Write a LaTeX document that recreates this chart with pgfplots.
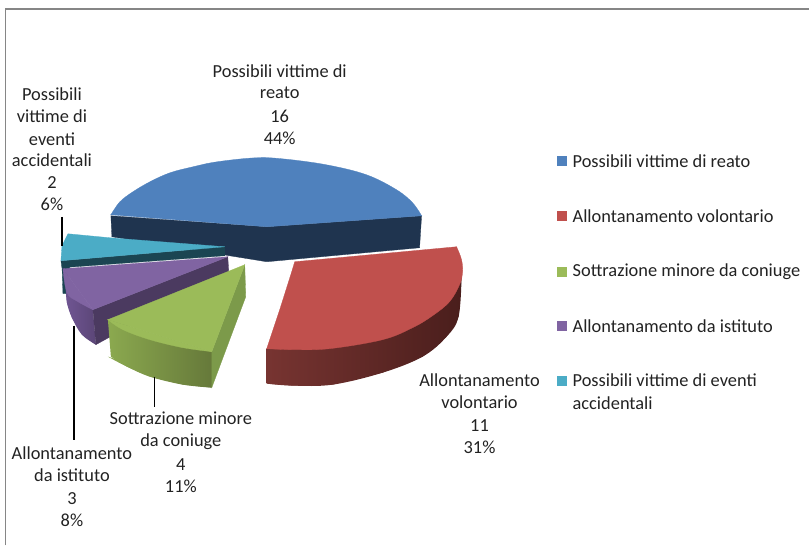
\documentclass[border=0pt]{standalone}
\usepackage{fontspec}
\setmainfont{Carlito}
\usepackage{pgfplots}
\pgfplotsset{compat=1.18}
\definecolor{bluetop}{HTML}{4F81BD}
\definecolor{blueside}{HTML}{1F344F}
\definecolor{redtop}{HTML}{C0504D}
\definecolor{redsideA}{HTML}{773431}
\definecolor{redsideB}{HTML}{4A1E1C}
\definecolor{greentop}{HTML}{9BBB59}
\definecolor{greenside}{HTML}{7C9A4A}
\definecolor{greenA}{HTML}{8BA94F}
\definecolor{greenB}{HTML}{66793A}
\definecolor{purpletop}{HTML}{8064A2}
\definecolor{purpleside}{HTML}{4B3A60}
\definecolor{purpleA}{HTML}{6F5592}
\definecolor{purpleB}{HTML}{5B4677}
\definecolor{tealtop}{HTML}{4BACC6}
\definecolor{tealside}{HTML}{1B4552}
\definecolor{framec}{HTML}{868686}
\definecolor{txt}{HTML}{222222}
\begin{document}
\begin{tikzpicture}[
  lab/.style={font=\fontsize{18.4}{20}\selectfont, text=txt, inner sep=0pt, anchor=center},
  leg/.style={font=\fontsize{18.4}{20}\selectfont, text=txt, inner sep=0pt, anchor=west}]
\begin{axis}[
  scale only axis, width=810pt, height=546pt,
  xmin=0, xmax=810, ymin=0, ymax=546, y dir=reverse,
  axis line style={draw=none}, ticks=none, no markers,
  clip=false]
% frame
\addplot[framec, line width=1.6pt] coordinates {(5.6,546) (5.6,8.8) (810,8.8)};
% blue
\addplot[fill=blueside, draw=blueside, line width=0.3pt] coordinates {(111,216) (267,227) (422,216) (420,248) (267,262) (112,237)} --cycle;
\addplot[fill=bluetop, draw=bluetop, line width=0.3pt, smooth, tension=0.6] coordinates {(111,215) (120,202) (133,192) (150,182) (170,173) (193,167) (217,162) (255,158) (283,159) (327,165) (367,175) (397,190) (413,203) (422,216)} --cycle;
\addplot[fill=bluetop, draw=bluetop, line width=0.3pt] coordinates {(111,215) (200,190) (340,190) (422,216) (267,227)} --cycle;
% teal
\addplot[fill=tealside, draw=tealside, line width=0.3pt] coordinates {(62,265) (63,294) (66,294) (70,265)} --cycle;
\addplot[fill=tealside, draw=tealside, line width=0.3pt] coordinates {(61,261) (225,247) (225,256) (62,268)} --cycle;
\addplot[fill=tealtop, draw=tealtop, line width=0.3pt] coordinates {(68,234) (110,238) (225,247) (61,261) (62,246)} --cycle;
% purple
\addplot[left color=purpleA, right color=purpleB, draw=none, smooth, tension=0.6] coordinates {(66,290) (67,303) (72,318) (82,335) (96,345)} --cycle;
\addplot[left color=purpleA, right color=purpleB, draw=none] coordinates {(66,290) (67,303) (72,318) (82,335) (96,345) (93,310)} --cycle;
\addplot[fill=purpleside, draw=purpleside, line width=0.3pt] coordinates {(93,310) (228,257) (229,272) (96,345)} --cycle;
\addplot[fill=purpletop, draw=purpletop, line width=0.3pt, smooth, tension=0.6] coordinates {(63,269) (67,293) (78,302) (93,310)} --cycle;
\addplot[fill=purpletop, draw=purpletop, line width=0.3pt] coordinates {(63,269) (228,257) (93,310)} --cycle;
% green
\addplot[left color=greenA, right color=greenB, draw=none] coordinates {(108,320) (111,357) (127,367) (150,377) (183,385) (212,388) (212,352)} --cycle;
\addplot[left color=greenA, right color=greenB, draw=none, smooth, tension=0.6] coordinates {(108,357) (127,367) (150,377) (183,385) (212,388)} --cycle;
\addplot[fill=greenside, draw=greenside, line width=0.3pt] coordinates {(245,265) (246,297) (212,388) (212,352)} --cycle;
\addplot[fill=greentop, draw=greentop, line width=0.3pt, smooth, tension=0.6] coordinates {(108,320) (123,330) (150,340) (183,348) (212,352)} --cycle;
\addplot[fill=greentop, draw=greentop, line width=0.3pt] coordinates {(108,320) (245,265) (212,352)} --cycle;
% red
\addplot[left color=redsideA, middle color=redsideB, right color=redsideB, draw=none] coordinates {(267,349) (267,384) (293,386) (333,385) (383,373) (423,357) (447,337) (459,317) (462,277)} --cycle;
\addplot[left color=redsideA, middle color=redsideB, right color=redsideB, draw=none, smooth, tension=0.6] coordinates {(267,384) (293,386) (333,385) (383,373) (423,357) (447,337) (459,317) (462,277)} --cycle;
\addplot[fill=redtop, draw=redtop, line width=0.3pt, smooth, tension=0.6] coordinates {(457,247) (462,260) (463,273) (460,285) (450,302) (433,316) (413,328) (383,340) (330,349) (293,350) (267,349)} --cycle;
\addplot[fill=redtop, draw=redtop, line width=0.3pt] coordinates {(295,262) (457,247) (420,310) (267,349) (280,310) (292,272)} --cycle;
% leader lines
\addplot[black, line width=1.3pt] coordinates {(62,217) (62,246)};
\addplot[black, line width=1.3pt] coordinates {(74,326) (74,440)};
\addplot[black, line width=1.3pt] coordinates {(155,377) (155,407)};
% data labels
\node[lab] at (axis cs:280,71) {Possibili vittime di};
\node[lab] at (axis cs:280,93) {reato};
\node[lab] at (axis cs:280,116) {16};
\node[lab] at (axis cs:280,138) {44\%};
\node[lab] at (axis cs:52,94) {Possibili};
\node[lab] at (axis cs:52,116) {vittime di};
\node[lab] at (axis cs:52,139) {eventi};
\node[lab] at (axis cs:52,160) {accidentali};
\node[lab] at (axis cs:52,183) {2};
\node[lab] at (axis cs:52,205) {6\%};
\node[lab] at (axis cs:181,419) {Sottrazione minore};
\node[lab] at (axis cs:181,442) {da coniuge};
\node[lab] at (axis cs:181,465) {4};
\node[lab] at (axis cs:181,487) {11\%};
\node[lab] at (axis cs:72,454) {Allontanamento};
\node[lab] at (axis cs:72,476) {da istituto};
\node[lab] at (axis cs:72,499) {3};
\node[lab] at (axis cs:72,521) {8\%};
\node[lab] at (axis cs:480,381) {Allontanamento};
\node[lab] at (axis cs:480,403) {volontario};
\node[lab] at (axis cs:480,426) {11};
\node[lab] at (axis cs:480,448) {31\%};
% legend
\addplot[fill=bluetop, draw=none] coordinates {(558,156) (568,156) (568,166) (558,166)} --cycle;
\addplot[fill=redtop, draw=none] coordinates {(558,211) (568,211) (568,221) (558,221)} --cycle;
\addplot[fill=greentop, draw=none] coordinates {(558,267) (568,267) (568,277) (558,277)} --cycle;
\addplot[fill=purpletop, draw=none] coordinates {(558,321) (568,321) (568,331) (558,331)} --cycle;
\addplot[fill=tealtop, draw=none] coordinates {(558,376) (568,376) (568,386) (558,386)} --cycle;
\node[leg] at (axis cs:573,161) {Possibili vittime di reato};
\node[leg] at (axis cs:573,216) {Allontanamento volontario};
\node[leg] at (axis cs:573,272) {Sottrazione minore da coniuge};
\node[leg] at (axis cs:573,326) {Allontanamento da istituto};
\node[leg] at (axis cs:573,381) {Possibili vittime di eventi};
\node[leg] at (axis cs:573,404) {accidentali};
\end{axis}
\end{tikzpicture}
\end{document}
